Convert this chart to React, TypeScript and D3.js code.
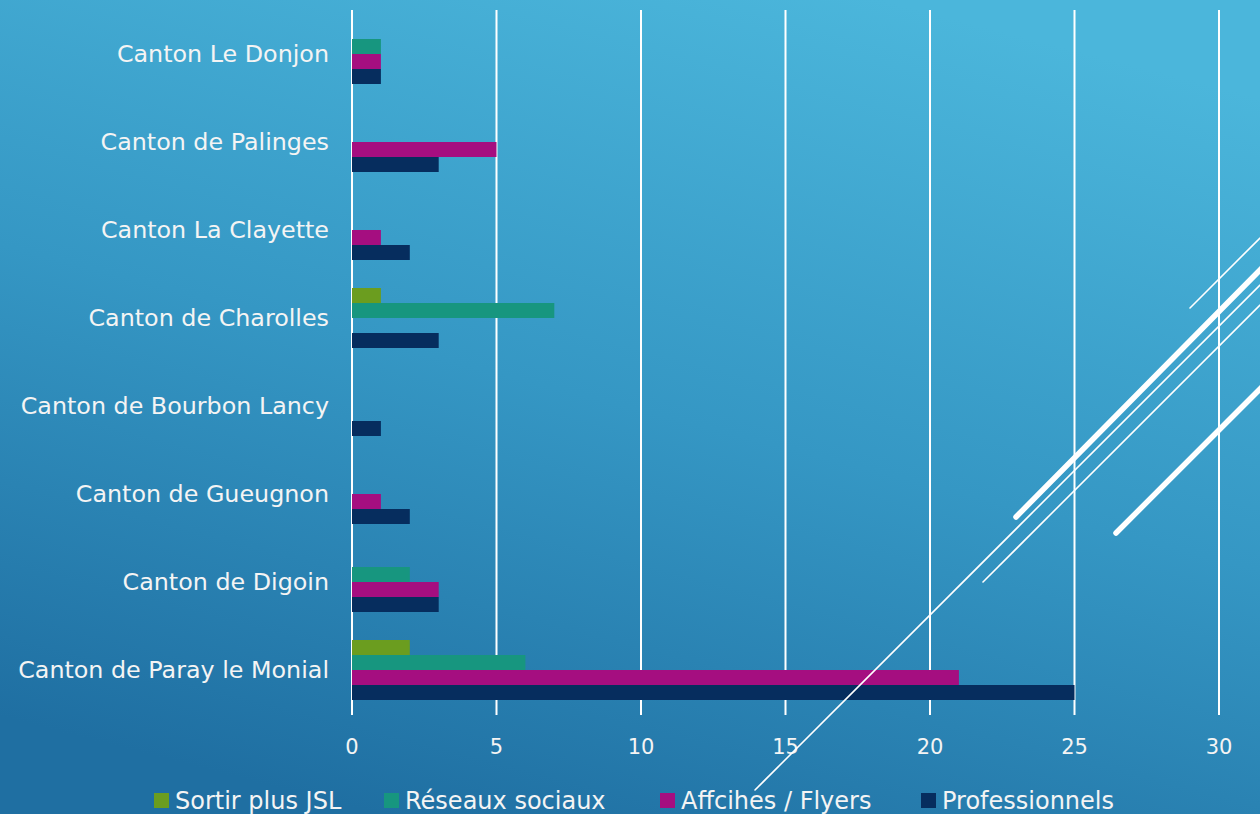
import React from "react";
import * as d3 from "d3";

const categories = [
  "Canton Le Donjon",
  "Canton de Palinges",
  "Canton La Clayette",
  "Canton de Charolles",
  "Canton de Bourbon Lancy",
  "Canton de Gueugnon",
  "Canton de Digoin",
  "Canton de Paray le Monial",
];
const seriesNames = ["Sortir plus JSL", "Réseaux sociaux", "Affcihes / Flyers", "Professionnels"];
const sortirPlusJSL = [0, 0, 0, 1, 0, 0, 0, 2];
const reseauxSociaux = [1, 0, 0, 7, 0, 0, 2, 6];
const affiches = [1, 5, 1, 0, 0, 1, 3, 21];
const professionnels = [1, 3, 2, 3, 1, 2, 3, 25];
const seriesColors = ["#6b9d1f", "#17967f", "#a50e80", "#062d5e"];
const tickValues = [0, 5, 10, 15, 20, 25, 30];

const W = 1260;
const H = 814;
const FONT = "'URW Gothic', 'Century Gothic', 'DejaVu Sans', sans-serif";

export default function App() {
  const seriesValues = [sortirPlusJSL, reseauxSociaux, affiches, professionnels];
  const x = d3.scaleLinear().domain([0, 30]).range([352, 1219]);
  const y0 = d3
    .scaleBand<string>()
    .domain(categories)
    .range([10, 714])
    .paddingInner(28 / 88)
    .paddingOuter(14 / 88);
  const y1 = d3
    .scaleBand<string>()
    .domain(seriesNames)
    .range([0, y0.bandwidth()]);

  const decoLines = [
    { x1: 755, y1: 790, x2: 1260, y2: 285, w: 1.6 },
    { x1: 983, y1: 582, x2: 1260, y2: 305, w: 1.6 },
    { x1: 1190, y1: 308, x2: 1260, y2: 238, w: 1.6 },
    { x1: 1016, y1: 517, x2: 1262, y2: 268, w: 5.5 },
    { x1: 1116, y1: 533, x2: 1262, y2: 387, w: 5.5 },
  ];

  return (
    <svg width={W} height={H} style={{ position: "absolute", left: 0, top: 0 }}>
      <defs>
        <linearGradient id="bg" x1="0.7" y1="0" x2="0.3" y2="1">
          <stop offset="0" stopColor="#4bb6db" />
          <stop offset="0.5" stopColor="#3597c4" />
          <stop offset="1" stopColor="#1f6fa2" />
        </linearGradient>
      </defs>
      <rect x={0} y={0} width={W} height={H} fill="url(#bg)" />
      {tickValues.map((t) => (
        <line key={"g" + t} x1={x(t)} x2={x(t)} y1={10} y2={715} stroke="#ffffff" strokeWidth={2} />
      ))}
      {categories.map((c, i) => (
        <g key={c} transform={`translate(0,${y0(c)})`}>
          {seriesNames.map((s, j) =>
            seriesValues[j][i] > 0 ? (
              <rect
                key={s}
                x={x(0)}
                y={y1(s)}
                width={x(seriesValues[j][i]) - x(0)}
                height={y1.bandwidth()}
                fill={seriesColors[j]}
              />
            ) : null
          )}
        </g>
      ))}
      {categories.map((c) => (
        <text
          key={"l" + c}
          x={329}
          y={(y0(c) as number) + y0.bandwidth() / 2}
          textAnchor="end"
          dominantBaseline="central"
          fill="#f4f4f4"
          fontSize={23.8}
          fontFamily={FONT}
        >
          {c}
        </text>
      ))}
      {tickValues.map((t) => (
        <text
          key={"t" + t}
          x={x(t)}
          y={747}
          textAnchor="middle"
          dominantBaseline="central"
          fill="#f4f4f4"
          fontSize={21}
          fontFamily={FONT}
        >
          {t}
        </text>
      ))}
      {decoLines.map((l, i) => (
        <line
          key={"d" + i}
          x1={l.x1}
          y1={l.y1}
          x2={l.x2}
          y2={l.y2}
          stroke="#ffffff"
          strokeWidth={l.w}
          strokeLinecap="round"
        />
      ))}
      {seriesNames.map((s, j) => {
        const lx = [154, 384, 660, 921][j];
        return (
          <g key={"lg" + s}>
            <rect x={lx} y={793} width={15} height={15} fill={seriesColors[j]} />
            <text x={lx + 21} y={809} fill="#f4f4f4" fontSize={24} fontFamily={FONT}>
              {s}
            </text>
          </g>
        );
      })}
    </svg>
  );
}
